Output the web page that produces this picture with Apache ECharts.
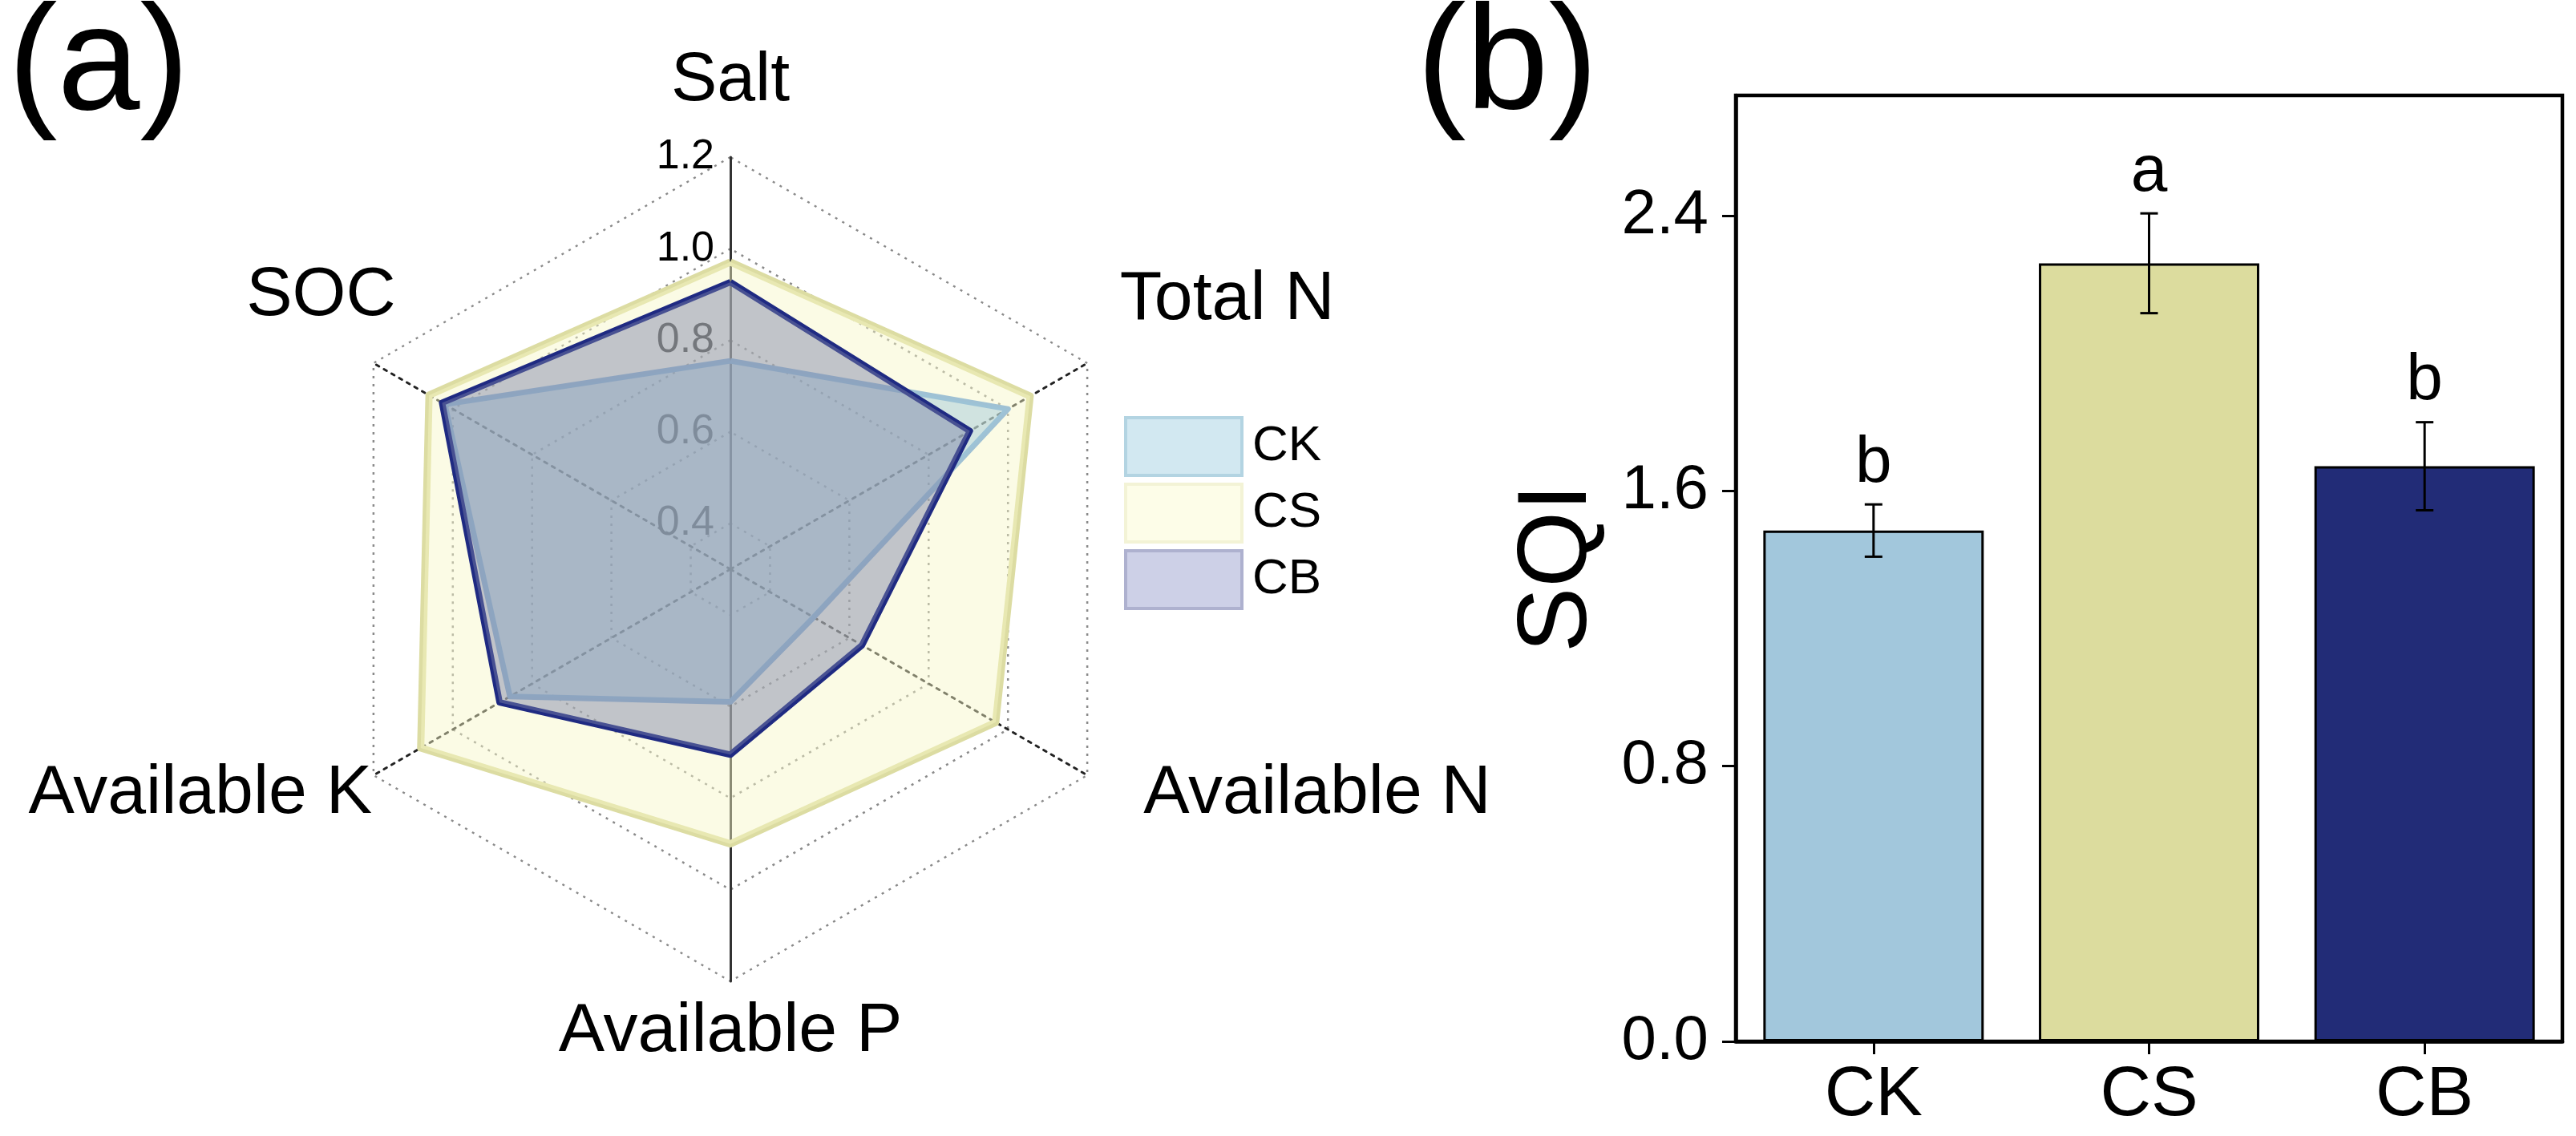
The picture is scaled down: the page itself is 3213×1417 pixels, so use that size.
<!DOCTYPE html>
<html>
<head>
<meta charset="utf-8">
<script src="https://cdn.jsdelivr.net/npm/echarts@6/dist/echarts.min.js"></script>
<style>
html,body{margin:0;padding:0;background:#ffffff;}
#chart{width:3213px;height:1417px;}
</style>
</head>
<body>
<div id="chart"></div>
<script>
// ---------------- data ----------------
// radar indicators, counter-clockwise from the top
const radarIndicators = ['Salt', 'SOC', 'Available K', 'Available P', 'Available N', 'Total N'];
const radarMin = 0.3;
const radarMax = 1.2;
const radarTickLabels = ['0.4', '0.6', '0.8', '1.0', '1.2'];
const seriesNames = ['CK', 'CS', 'CB'];
const ckValues = [0.755, 1.02, 0.856, 0.59, 0.51, 1.0];
const csValues = [0.971, 1.06, 1.081, 0.90, 0.969, 1.056];
const cbValues = [0.927, 1.027, 0.882, 0.705, 0.632, 0.904];

const barCategories = ['CK', 'CS', 'CB'];
const sqiMean = [1.485, 2.262, 1.672];
const sqiErr = [0.076, 0.145, 0.128];
const sqiLetters = ['b', 'a', 'b'];
const sqiTicks = [0, 0.8, 1.6, 2.4];

// ---------------- styles ----------------
const FONT = 'Liberation Sans, Arial, sans-serif';
// name gap along the axis and vertical nudge (negative = up) for each indicator name
const nameGap = { 'Salt': 50, 'SOC': -32, 'Available K': 2, 'Available P': 18, 'Available N': 81, 'Total N': 47 };
const nameShift = { 'Salt': 0, 'SOC': -100, 'Available K': 22, 'Available P': 0, 'Available N': -17, 'Total N': -55 };

const solidAxis = { show: true, lineStyle: { color: '#333', width: 3, type: 'solid' } };
const dottedAxis = { show: true, lineStyle: { color: '#222', width: 3, type: [4, 7] } };

const indicator = radarIndicators.map(function (name, i) {
  const o = {
    name: name, min: radarMin, max: radarMax,
    nameGap: nameGap[name],
    axisLine: (name === 'Salt' || name === 'Available P') ? solidAxis : dottedAxis
  };
  if (i === 0) {
    o.axisLabel = {
      show: true, fontSize: 52, color: '#000', fontFamily: FONT, margin: 20,
      formatter: function (v) {
        const s = (Math.round(v * 10) / 10).toFixed(1);
        return radarTickLabels.indexOf(s) >= 0 ? s : '';
      }
    };
  }
  return o;
});

const nameRich = { n: { fontSize: 86, lineHeight: 90, color: '#000', fontFamily: FONT } };
radarIndicators.forEach(function (name, i) {
  nameRich['g' + i] = { fontSize: 8, lineHeight: Math.max(1, 2 * Math.abs(nameShift[name])) };
});
function nameFormatter(name) {
  const i = radarIndicators.indexOf(name);
  const s = nameShift[name];
  if (!s) return '{n|' + name + '}';
  return s < 0 ? '{n|' + name + '}\n{g' + i + '| }' : '{g' + i + '| }\n{n|' + name + '}';
}

const itemStyles = {
  CK: { line: '#9fc1d4', lw: 7, area: '#9cc6da', op: 0.45 },
  CS: { line: '#dcdca2', lw: 9, area: '#f7f7c6', op: 0.45 },
  CB: { line: '#1f2a82', lw: 8, area: '#7b81a6', op: 0.45 }
};
const valuesByName = { CK: ckValues, CS: csValues, CB: cbValues };
const drawOrder = ['CS', 'CK', 'CB'];
const radarData = drawOrder.map(function (n) {
  const s = itemStyles[n];
  return {
    name: n,
    value: valuesByName[n],
    symbol: 'none',
    lineStyle: { color: s.line, width: s.lw },
    itemStyle: { color: s.line },
    areaStyle: { color: s.area, opacity: s.op }
  };
});

const legendStyles = {
  CK: { fill: '#d2e8f1', border: '#b3d4e2' },
  CS: { fill: '#fdfde8', border: '#f3f3d6' },
  CB: { fill: '#cdd0e7', border: '#aeb1cf' }
};

const barColors = ['#a2c7dc', '#dcdc9e', '#222c77'];

const chart = echarts.init(document.getElementById('chart'), null, { renderer: 'canvas' });

const titleStyle = { fontSize: 185, fontWeight: 'normal', fontFamily: FONT, color: '#000' };
const option = {
  backgroundColor: '#ffffff',
  animation: false,
  title: [
    { text: '(a)', left: 10, top: -8, padding: 0, textStyle: titleStyle },
    { text: '(b)', left: 1767, top: -8, padding: 0, textStyle: titleStyle }
  ],
  legend: {
    orient: 'vertical',
    left: 1402, top: 519,
    padding: 0,
    itemWidth: 145, itemHeight: 72, itemGap: 7,
    icon: 'rect',
    textStyle: { fontSize: 62, color: '#000', fontFamily: FONT, padding: [0, 0, 0, 8] },
    data: seriesNames.map(function (n) {
      return { name: n, icon: 'rect', itemStyle: { color: legendStyles[n].fill, borderColor: legendStyles[n].border, borderWidth: 4 } };
    })
  },
  radar: {
    center: [911, 710],
    radius: 514,
    startAngle: 90,
    splitNumber: 9,
    shape: 'polygon',
    axisName: { color: '#000', fontSize: 86, fontFamily: FONT, formatter: nameFormatter, rich: nameRich },
    axisLine: dottedAxis,
    axisTick: { show: false },
    axisLabel: { show: false },
    splitLine: { show: true, lineStyle: { color: ['rgba(0,0,0,0)', '#8a8a8a'], width: 2.5, type: [3, 7] } },
    splitArea: { show: false },
    indicator: indicator
  },
  grid: {
    left: 2165, top: 119, width: 1031, height: 1180,
    show: true, borderColor: '#000', borderWidth: 4.5, backgroundColor: 'rgba(0,0,0,0)'
  },
  xAxis: {
    type: 'category',
    data: barCategories,
    axisLine: { show: true, lineStyle: { color: '#000', width: 4.5 } },
    axisTick: { show: true, alignWithLabel: true, length: 16, lineStyle: { color: '#000', width: 3 } },
    axisLabel: { fontSize: 88, color: '#000', fontFamily: FONT, margin: 24 }
  },
  yAxis: {
    type: 'value',
    min: 0, max: 2.75, interval: 0.8,
    name: 'SQI', nameLocation: 'middle', nameGap: 160,
    nameTextStyle: { fontSize: 122, color: '#000', fontFamily: FONT },
    axisLine: { show: true, lineStyle: { color: '#000', width: 4.5 } },
    axisTick: { show: true, inside: false, length: 17, lineStyle: { color: '#000', width: 3 }, customValues: sqiTicks },
    axisLabel: { fontSize: 78, color: '#000', fontFamily: FONT, margin: 34, customValues: sqiTicks,
      formatter: function (v) { return v.toFixed(1); } },
    splitLine: { show: false }
  },
  series: [
    {
      type: 'radar',
      symbol: 'none',
      data: radarData
    },
    {
      type: 'bar',
      data: sqiMean.map(function (v, i) {
        return { value: v, itemStyle: { color: barColors[i], borderColor: '#000', borderWidth: 3 } };
      }),
      barCategoryGap: '20%'
    },
    {
      type: 'custom',
      data: sqiMean.map(function (v, i) { return [i, v, sqiErr[i]]; }),
      z: 10,
      renderItem: function (params, api) {
        const x = api.value(0), m = api.value(1), e = api.value(2);
        const top = api.coord([x, m + e]);
        const bot = api.coord([x, m - e]);
        const half = 11;
        const st = { stroke: '#000', lineWidth: 3 };
        return {
          type: 'group',
          children: [
            { type: 'line', shape: { x1: top[0], y1: top[1], x2: bot[0], y2: bot[1] }, style: st },
            { type: 'line', shape: { x1: top[0] - half, y1: top[1], x2: top[0] + half, y2: top[1] }, style: st },
            { type: 'line', shape: { x1: bot[0] - half, y1: bot[1], x2: bot[0] + half, y2: bot[1] }, style: st },
            { type: 'text', x: top[0], y: top[1] - 10,
              style: { text: sqiLetters[params.dataIndex], fontSize: 82, fontFamily: FONT, fill: '#000',
                       textAlign: 'center', textVerticalAlign: 'bottom' } }
          ]
        };
      }
    }
  ]
};
chart.setOption(option);
</script>
</body>
</html>
